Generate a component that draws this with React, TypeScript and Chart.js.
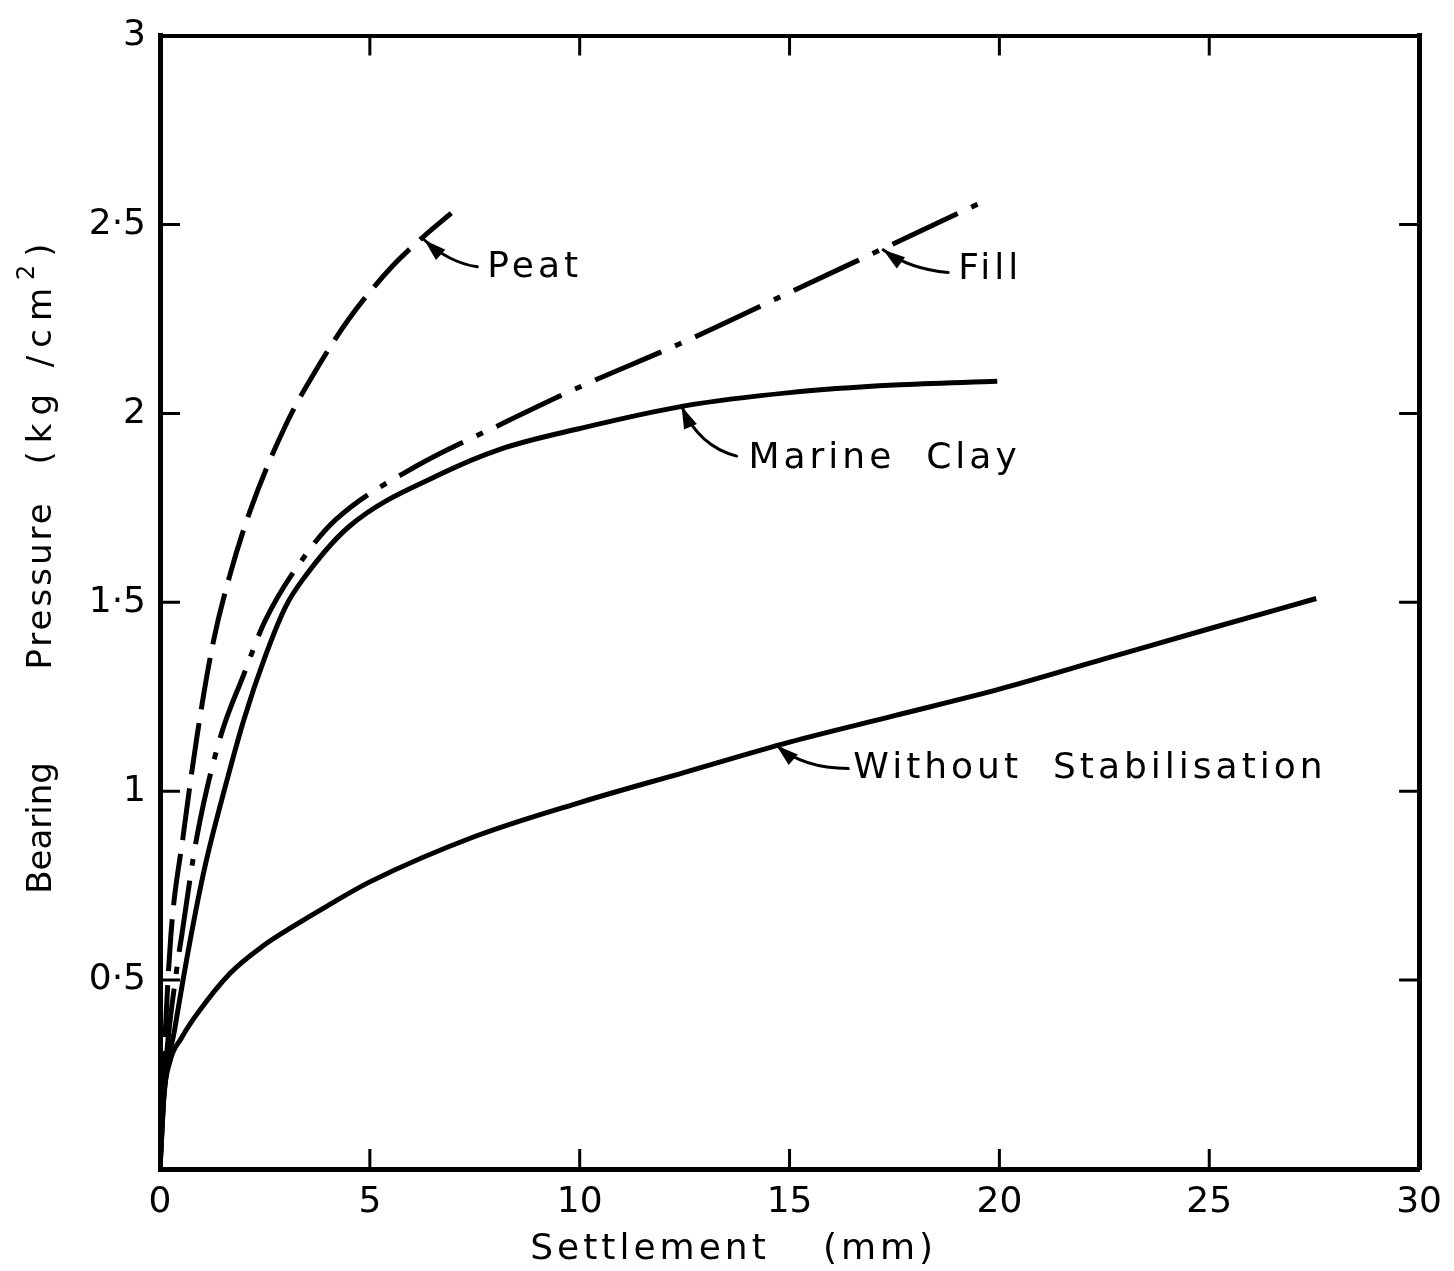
import React, { useEffect, useRef } from 'react';
import { Chart, registerables } from 'chart.js';

Chart.register(...registerables);

// ---- Data (Settlement mm, Bearing pressure kg/cm2) ----
const peatX = [0, 0.1, 0.26, 0.55, 0.88, 1.26, 1.66, 2.14, 3.0, 3.8, 4.5, 5.54, 6.3, 6.94];
const peatY = [0, 0.3, 0.62, 0.88, 1.144, 1.39, 1.57, 1.74, 1.97, 2.13, 2.25, 2.39, 2.47, 2.53];

const fillX = [0, 0.12, 0.4, 0.52, 0.88, 1.43, 2.0, 2.5, 3.5, 4.2, 6.1, 8.1, 10, 12.5, 15, 17.3, 19.6];
const fillY = [0, 0.25, 0.53, 0.62, 0.88, 1.14, 1.31, 1.45, 1.63, 1.72, 1.86, 1.97, 2.07, 2.19, 2.32, 2.44, 2.56];

const marineX = [0, 0.1, 0.35, 0.71, 1.07, 1.55, 2.0, 2.5, 3.0, 3.4, 4.5, 6.7, 8.1, 10, 12.5, 15, 17.5, 19.95];
const marineY = [0, 0.2, 0.37, 0.6, 0.8, 1.01, 1.19, 1.355, 1.49, 1.56, 1.7, 1.84, 1.905, 1.96, 2.02, 2.055, 2.075, 2.085];

const withoutX = [0, 0.08, 0.24, 0.5, 0.88, 1.66, 2.45, 3.26, 4.04, 5, 7.5, 10, 12.5, 15, 17.5, 20, 22.5, 25, 27.55];
const withoutY = [0, 0.18, 0.286, 0.345, 0.41, 0.517, 0.59, 0.648, 0.7, 0.76, 0.88, 0.97, 1.05, 1.13, 1.2, 1.27, 1.35, 1.43, 1.51];

const xTickValues = [0, 5, 10, 15, 20, 25, 30];
const yTickValues = [0, 0.5, 1, 1.5, 2, 2.5, 3];

// ---- Annotations (data coordinates) ----
const labelTexts = ['Peat', 'Fill', 'Marine  Clay', 'Without  Stabilisation'];
const labelX = [7.8, 19.02, 14.02, 16.52];
const labelY = [2.386, 2.381, 1.879, 1.06];
const arrowTailX = [7.56, 18.78, 13.74, 16.4];
const arrowTailY = [2.388, 2.373, 1.887, 1.06];
const arrowCtrlX = [6.89, 17.87, 12.84, 15.33];
const arrowCtrlY = [2.399, 2.381, 1.913, 1.06];
const arrowTipX = [6.3, 17.23, 12.43, 14.69];
const arrowTipY = [2.459, 2.433, 2.018, 1.121];

const pts = (xs: number[], ys: number[]) => xs.map((x, i) => ({ x, y: ys[i] }));

const FONT = '"DejaVu Sans", sans-serif';

const overlayPlugin = {
  id: 'overlay',
  afterDraw(chart: any) {
    const { ctx, chartArea } = chart;
    const { left, right, top, bottom } = chartArea;
    const xs = chart.scales.x;
    const ys = chart.scales.y;
    ctx.save();
    ctx.strokeStyle = '#000';
    ctx.fillStyle = '#000';
    // inward ticks
    ctx.lineWidth = 3;
    const tl = 20;
    xTickValues.slice(1, -1).forEach((v) => {
      const px = xs.getPixelForValue(v);
      ctx.beginPath();
      ctx.moveTo(px, bottom);
      ctx.lineTo(px, bottom - tl);
      ctx.moveTo(px, top);
      ctx.lineTo(px, top + tl);
      ctx.stroke();
    });
    yTickValues.slice(1, -1).forEach((v) => {
      const py = ys.getPixelForValue(v);
      ctx.beginPath();
      ctx.moveTo(left, py);
      ctx.lineTo(left + tl, py);
      ctx.moveTo(right, py);
      ctx.lineTo(right - tl, py);
      ctx.stroke();
    });

    // arrows
    ctx.lineWidth = 3;
    ctx.lineCap = 'round';
    for (let i = 0; i < labelTexts.length; i++) {
      const tx = xs.getPixelForValue(arrowTailX[i]);
      const ty = ys.getPixelForValue(arrowTailY[i]);
      const cx = xs.getPixelForValue(arrowCtrlX[i]);
      const cy = ys.getPixelForValue(arrowCtrlY[i]);
      const hx = xs.getPixelForValue(arrowTipX[i]);
      const hy = ys.getPixelForValue(arrowTipY[i]);
      ctx.beginPath();
      ctx.moveTo(tx, ty);
      ctx.quadraticCurveTo(cx, cy, hx, hy);
      ctx.stroke();
      const ang = Math.atan2(hy - cy, hx - cx);
      const L = 22;
      const W = 7;
      ctx.beginPath();
      ctx.moveTo(hx, hy);
      ctx.lineTo(hx - L * Math.cos(ang) + W * Math.sin(ang), hy - L * Math.sin(ang) - W * Math.cos(ang));
      ctx.lineTo(hx - L * Math.cos(ang) - W * Math.sin(ang), hy - L * Math.sin(ang) + W * Math.cos(ang));
      ctx.closePath();
      ctx.fill();
    }

    // labels
    ctx.font = `36px ${FONT}`;
    (ctx as any).letterSpacing = '4px';
    ctx.textAlign = 'left';
    ctx.textBaseline = 'middle';
    for (let i = 0; i < labelTexts.length; i++) {
      ctx.fillText(labelTexts[i], xs.getPixelForValue(labelX[i]), ys.getPixelForValue(labelY[i]));
    }

    // x axis title
    ctx.textAlign = 'center';
    ctx.textBaseline = 'middle';
    ctx.font = `36px ${FONT}`;
    (ctx as any).letterSpacing = '4px';
    ctx.fillText('Settlement', 650, 1250);
    ctx.fillText('(mm)', 880, 1250);

    // y axis title (rotated)
    ctx.save();
    ctx.translate(42, 0);
    ctx.rotate(-Math.PI / 2);
    ctx.font = `34px ${FONT}`;
    (ctx as any).letterSpacing = '0px';
    ctx.fillText('Bearing', -828, 0);
    (ctx as any).letterSpacing = '3px';
    ctx.fillText('Pressure', -585, 0);
    // (kg /cm²) with a real superscript
    ctx.textAlign = 'left';
    (ctx as any).letterSpacing = '8px';
    const partA = '(kg /cm';
    const wA = ctx.measureText(partA).width;
    ctx.font = `24px ${FONT}`;
    const wB = ctx.measureText('2').width;
    ctx.font = `34px ${FONT}`;
    const wC = ctx.measureText(')').width;
    const total = wA + wB + wC;
    let sx = -350 - total / 2;
    ctx.fillText(partA, sx, 0);
    sx += wA;
    ctx.font = `24px ${FONT}`;
    ctx.fillText('2', sx, -14);
    sx += wB;
    ctx.font = `34px ${FONT}`;
    ctx.fillText(')', sx, 0);
    ctx.restore();

    ctx.restore();
  },
};

export default function App() {
  const canvasRef = useRef<HTMLCanvasElement | null>(null);

  useEffect(() => {
    document.body.style.margin = '0';
    const canvas = canvasRef.current;
    if (!canvas) return;
    const common = {
      borderColor: '#000',
      borderWidth: 5,
      pointRadius: 0,
      fill: false,
      cubicInterpolationMode: 'monotone' as const,
    };
    const chart = new Chart(canvas, {
      type: 'line',
      data: {
        datasets: [
          { ...common, label: 'Peat', data: pts(peatX, peatY), borderDash: [52, 14] },
          { ...common, label: 'Fill', data: pts(fillX, fillY), borderDash: [72, 15, 7, 15] },
          { ...common, label: 'Marine Clay', data: pts(marineX, marineY) },
          { ...common, label: 'Without Stabilisation', data: pts(withoutX, withoutY) },
        ],
      },
      options: {
        animation: false,
        responsive: false,
        devicePixelRatio: 1,
        layout: { padding: { top: 26, right: 32, left: 0, bottom: 0 } },
        plugins: { legend: { display: false }, tooltip: { enabled: false } },
        scales: {
          x: {
            type: 'linear',
            position: 'bottom',
            min: 0,
            max: 30,
            afterBuildTicks: (s: any) => {
              s.ticks = xTickValues.map((v) => ({ value: v }));
            },
            afterFit: (s: any) => {
              s.height = 102;
            },
            grid: { display: false, drawTicks: false },
            border: { display: true, color: '#000', width: 5 },
            ticks: {
              color: '#000',
              padding: 12,
              font: { family: FONT, size: 36 },
              callback: (v: any) => String(v),
              maxRotation: 0,
              autoSkip: false,
            },
          },
          y: {
            type: 'linear',
            position: 'left',
            min: 0,
            max: 3,
            afterBuildTicks: (s: any) => {
              s.ticks = yTickValues.map((v) => ({ value: v }));
            },
            afterFit: (s: any) => {
              s.width = 160;
            },
            grid: { display: false, drawTicks: false },
            border: { display: true, color: '#000', width: 5 },
            ticks: {
              color: '#000',
              padding: 14,
              font: { family: FONT, size: 36 },
              callback: (v: any) => (v === 0 ? '' : String(v).replace('.', '·')),
              autoSkip: false,
            },
          },
          xTop: {
            type: 'linear',
            position: 'top',
            min: 0,
            max: 30,
            afterFit: (s: any) => {
              s.height = 0;
            },
            grid: { display: false, drawTicks: false },
            border: { display: true, color: '#000', width: 4 },
            ticks: { display: false },
          },
          yRight: {
            type: 'linear',
            position: 'right',
            min: 0,
            max: 3,
            afterFit: (s: any) => {
              s.width = 0;
            },
            grid: { display: false, drawTicks: false },
            border: { display: true, color: '#000', width: 5 },
            ticks: { display: false },
          },
        },
      },
      plugins: [overlayPlugin],
    } as any);
    return () => chart.destroy();
  }, []);

  return (
    <div style={{ position: 'absolute', left: 0, top: 0, width: 1454, height: 1271, background: '#fff' }}>
      <canvas ref={canvasRef} width={1454} height={1271} style={{ width: 1454, height: 1271 }} />
    </div>
  );
}
